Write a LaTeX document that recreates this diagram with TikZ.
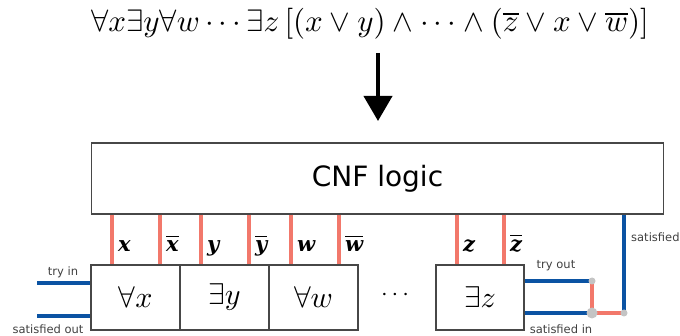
\documentclass[tikz,border=0pt]{standalone}
\usepackage{graphicx}
\usepackage{fontspec}
\newfontfamily\verd{DejaVu Sans}
\newfontfamily\litfont{DejaVu Serif}
\usetikzlibrary{arrows.meta}
\definecolor{wirered}{HTML}{F2786B}
\definecolor{wireblue}{HTML}{0B53A3}
\definecolor{boxgray}{HTML}{474747}
\definecolor{dotgray}{HTML}{C4C4C4}
\newcommand{\lit}[1]{{\litfont\fontsize{21}{24}\selectfont\bfseries\itshape #1}}
\newcommand{\nlit}[1]{\vbox{\hrule height 1.5pt\kern 3.8pt\hbox{\lit{#1}}}}
\newcommand{\bigmath}[2]{\scalebox{#1}{$#2$}}
\tikzset{
  logicbox/.style={draw=boxgray, line width=1.4pt, minimum width=572pt, minimum height=71pt, inner sep=0pt},
  qbox/.style={draw=boxgray, line width=1.2pt, minimum width=89pt, minimum height=65pt, inner sep=0pt},
  redwire/.style={draw=wirered, line width=3.2pt},
  bluewire/.style={draw=wireblue, line width=4.2pt},
  portlabel/.style={font=\verd\fontsize{11.5}{14}\selectfont, text=black!75, inner sep=0pt},
  litlabel/.style={anchor=base west, inner sep=0pt},
  bigarrow/.style={-{Triangle[length=25pt,width=28pt]}, line width=4pt}
}
\begin{document}
\begin{tikzpicture}[x=1pt,y=-1pt]
  \useasboundingbox (0,0) rectangle (680,336);
  \node (qbf) at (370,24) {\bigmath{3.1}{\forall x\exists y\forall w\cdots\exists z\,[(x\vee y)\wedge\cdots\wedge(\overline{z}\vee x\vee\overline{w})]}};
  \coordinate (arrtop) at (378,53); \coordinate (arrtip) at (378,121);
  \draw[bigarrow] (arrtop) -- (arrtip);

  \node[logicbox] (cnf) at (377.5,178.5) {\verd\fontsize{28}{32}\selectfont CNF logic};

  \node[qbox] (qx) at (135.5,297.5) {\bigmath{3}{\forall x}};
  \node[qbox] (qy) at (224.5,297.5) {\bigmath{3}{\exists y}};
  \node[qbox] (qw) at (313.5,297.5) {\bigmath{3}{\forall w}};
  \node[qbox, minimum width=88pt] (qz) at (480,297.5) {\bigmath{3}{\exists z}};
  \node (dots) at (395,295) {\bigmath{2.4}{\cdots}};

  \foreach \px/\q/\t in {112/qx/\lit{x}, 160/qx/\nlit{x}, 201/qy/\lit{y}, 249/qy/\nlit{y}, 291/qw/\lit{w}, 339/qw/\nlit{w}, 457/qz/\lit{z}, 504/qz/\nlit{z}}
    \draw[redwire] (cnf.south -| \px,0) -- (\q.north -| \px,0) node[litlabel, pos=0.745, xshift=4.5pt] {\t};

  % left ports
  \coordinate (tryin) at (37,283); \coordinate (satout) at (37,316);
  \draw[bluewire] (tryin) -- (qx.west |- tryin); \draw[bluewire] (satout) -- (qx.west |- satout);
  \node[portlabel] (tryinlbl) at (63,272) {try in};
  \node[portlabel] (satoutlbl) at (48,329) {satisfied out};

  % right ports
  \coordinate (tryout) at (592,281); \coordinate (satin) at (592,313); \coordinate (satback) at (624,313);
  \draw[bluewire] (qz.east |- tryout) -- (tryout); \draw[bluewire] (qz.east |- satin) -- (satin);
  \draw[redwire] (tryout) -- (satin) -- (satback);
  \draw[bluewire] (satback) -- (cnf.south -| satback);
  \fill[dotgray] (tryout) circle (3.5); \fill[dotgray] (satin) circle (5.5); \fill[dotgray] (satback) circle (3.5);
  \node[portlabel] (tryoutlbl) at (556,266) {try out};
  \node[portlabel] (satinlbl) at (561,329) {satisfied in};
  \node[portlabel, anchor=west] (satlbl) at (631,237) {satisfied};
\end{tikzpicture}
\end{document}
